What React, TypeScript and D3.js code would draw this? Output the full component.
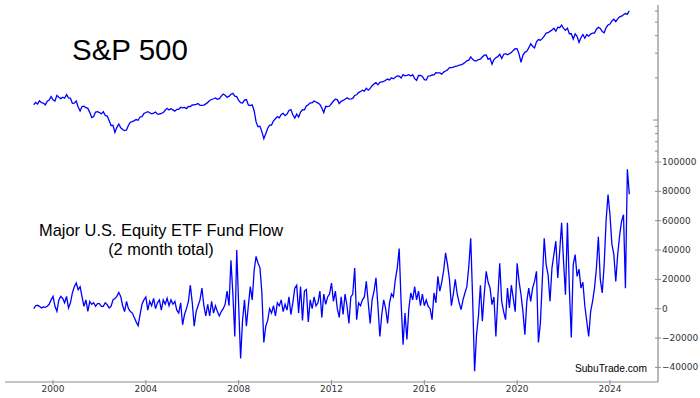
import * as d3 from "d3";

// monthly series, first value = March 1999, last = November 2024
const seriesStart = 1999 + 2 / 12;

// S&P 500 month-end closes
const spxMonthly = [
  1286, 1335, 1302, 1373, 1329, 1320, 1283, 1363, 1389, 1469,
  1394, 1366, 1499, 1452, 1421, 1455, 1431, 1518, 1437, 1429, 1315, 1320,
  1366, 1240, 1160, 1249, 1256, 1224, 1211, 1134, 1041, 1060, 1139, 1148,
  1130, 1107, 1147, 1077, 1067, 990, 912, 916, 815, 886, 936, 880,
  856, 841, 848, 917, 964, 975, 990, 1008, 996, 1051, 1058, 1112,
  1131, 1145, 1126, 1107, 1121, 1141, 1102, 1104, 1115, 1130, 1174, 1212,
  1181, 1204, 1181, 1157, 1192, 1191, 1234, 1220, 1229, 1207, 1249, 1248,
  1280, 1281, 1295, 1311, 1270, 1270, 1277, 1304, 1336, 1378, 1401, 1418,
  1438, 1407, 1421, 1482, 1531, 1503, 1455, 1474, 1527, 1549, 1481, 1468,
  1379, 1331, 1323, 1386, 1400, 1280, 1267, 1283, 1165, 969, 896, 903,
  826, 735, 798, 873, 919, 919, 987, 1021, 1057, 1036, 1096, 1115,
  1074, 1104, 1169, 1187, 1089, 1031, 1102, 1049, 1141, 1183, 1181, 1258,
  1286, 1327, 1326, 1364, 1345, 1321, 1292, 1219, 1131, 1253, 1247, 1258,
  1312, 1366, 1408, 1398, 1310, 1362, 1379, 1407, 1441, 1412, 1416, 1426,
  1498, 1515, 1569, 1598, 1631, 1606, 1686, 1633, 1682, 1757, 1806, 1848,
  1783, 1859, 1872, 1884, 1924, 1960, 1931, 2003, 1972, 2018, 2068, 2059,
  1995, 2105, 2068, 2086, 2107, 2063, 2104, 1972, 1920, 2079, 2080, 2044,
  1940, 1932, 2060, 2065, 2097, 2099, 2174, 2171, 2168, 2126, 2199, 2239,
  2279, 2364, 2363, 2384, 2412, 2423, 2470, 2472, 2519, 2575, 2648, 2674,
  2824, 2714, 2641, 2648, 2705, 2718, 2816, 2902, 2914, 2712, 2760, 2507,
  2704, 2784, 2834, 2946, 2752, 2942, 2980, 2926, 2977, 3038, 3141, 3231,
  3226, 2954, 2585, 2912, 3044, 3100, 3271, 3500, 3363, 3270, 3622, 3756,
  3714, 3811, 3973, 4181, 4204, 4298, 4395, 4523, 4308, 4605, 4567, 4766,
  4516, 4374, 4530, 4132, 4132, 3785, 4130, 3955, 3586, 3872, 4080, 3840,
  4077, 3970, 4109, 4169, 4180, 4450, 4589, 4508, 4288, 4194, 4568, 4770,
  4846, 5096, 5254, 5036, 5278, 5460, 5522, 5648, 5762, 5705, 6032,
];

// ETF fund flow, 2 month total (thousands of the axis unit)
const etfFlowK = [
  0, 2, 2.3, 1.6, 0.5, 1.2, 0.9, 1.6, 3, 6,
  8.4, 1.6, -1.8, 6, 8.4, 7, 4, 8.4, 0.5, 4, 10.7, 15,
  17.5, 13, 15, 8, 1.6, 6, -1.8, 5, 3, 4, 1.6, 3.4,
  3.4, 1.6, 1.6, 4, 2.7, 0.5, 1.6, 6, 7, 8.4, 11, 8.4,
  2, -2, 5, 0, -2, -3, -6, -9, -11.6, -4, 3, 6,
  8, -1, 5, 2, 7, 0, 4, 6, -1, 6, 3, 7,
  2, 6, 3, 5, -1, -3, 4, -11, -4, 0, 5, 16,
  4, -12, -2, 2, 6, 14, 2, -5, 3, -5, 5, -3,
  2, -2, -5, -2, 0, 3, 12, 2, 33, 10, -19, 40,
  2, -34, -8, 6, -12, 2, 15, 6, 26, 35.6, 31, 28,
  10.7, -23, -12, -8, 0, -3, 2, -5, 4, 2, 6, -2,
  3, -1, 8, -4, 4, 14, 16, -3, 15, -8, 12, 13,
  -9, 6, 0, 8, 2, 4, 12, -6, 10, 3, 8, 10,
  17.5, 5, 12, 0, -6, 8, -4, 10, 2, -10, 8, 10,
  27.7, -7.5, 4, 2, 6, 8, 18.6, 4, -10, 6, 12, 21,
  2, -19, -4, 6, 0, -10, 4, 10, 8, 19.7, 27.7, 41,
  4, -24.5, -3, -21, 0, 10.7, 6, 15, 6, 12, 2, 10,
  2, 6, 1.6, 0, -7.5, 10.7, 4, 22, 12, 18, 26, 38,
  30, 20, 2, 10, 20, 10, 4, -0.7, 6, 10.7, 15, 28.8,
  48, 6, -42.7, -17.7, -5, 16, -8.6, 10, 25.5, 18, 14, 2.7,
  8, -19, 7, 31, 5, -2, -7.5, 14, 0.5, 16, 7, -2,
  31, 18.6, 9.5, -2, -17.7, 5, 14, 5, 14, 18.6, 25.5, -23,
  -10, 18.6, 48, 30, 23, 5, 27.7, 36.9, 46, 21, 39, 58.5,
  32, 9.5, 58.5, 14, -19.6, 30, 36.9, 22, 27, 14, 18, 2,
  -8.6, -19, -2, 5, 14, 27.7, 49, 20, 10.7, 30, 60, 77.8,
  64, 44, 37, 18.6, 37, 50, 59.6, 64, 14, 95, 78,
];

const xTickYears = [2000, 2004, 2008, 2012, 2016, 2020, 2024];
const flowTicks = [-40000, -20000, 0, 20000, 40000, 60000, 80000, 100000];
const spxMajorTicks = [1000];
const spxMinorTicks = [600, 700, 800, 900, 2000, 3000, 4000, 5000, 6000];

const W = 700;
const H = 398;
const axisColor = "#8c8c8c";
const textColor = "#333";
const lineColor = "#0000ff";

export default function App() {
  const spine = { x: 658, top: 5, bottom: 382 };

  const x = d3.scaleLinear().domain([1997.93, 2026.07]).range([5, spine.x]);
  const yTop = d3.scaleLog().domain([600, 6000]).range([151.06, 11.06]);
  const yBot = d3.scaleLinear().domain([-50000, 100000]).range([spine.bottom, 162]);

  const date = (i: number) => seriesStart + i / 12;

  const spxLine = d3
    .line<number>()
    .x((_d, i) => x(date(i)))
    .y((d) => yTop(d));
  const flowLine = d3
    .line<number>()
    .x((_d, i) => x(date(i)))
    .y((d) => yBot(d * 1000));

  const tickFont = { fontFamily: "DejaVu Sans", fontSize: 9, fill: textColor };

  return (
    <svg
      width={W}
      height={H}
      style={{ position: "absolute", left: 0, top: 0, background: "#fff" }}
    >
      <path d={spxLine(spxMonthly) ?? ""} fill="none" stroke={lineColor} strokeWidth={1.3} />
      <path d={flowLine(etfFlowK) ?? ""} fill="none" stroke={lineColor} strokeWidth={1.3} />

      {/* spines */}
      <line x1={spine.x} x2={spine.x} y1={spine.top} y2={spine.bottom} stroke={axisColor} strokeWidth={1.2} />
      <line x1={5} x2={spine.x} y1={spine.bottom} y2={spine.bottom} stroke={axisColor} strokeWidth={1.2} />

      {/* top log ticks, no labels */}
      {spxMajorTicks.map((v) => (
        <line key={"M" + v} x1={spine.x - 5} x2={spine.x} y1={yTop(v)} y2={yTop(v)} stroke={axisColor} />
      ))}
      {spxMinorTicks.map((v) => (
        <line key={"m" + v} x1={spine.x - 3} x2={spine.x} y1={yTop(v)} y2={yTop(v)} stroke={axisColor} />
      ))}

      {/* bottom right axis */}
      {flowTicks.map((v) => (
        <g key={v} transform={`translate(${spine.x},${yBot(v)})`}>
          <line x1={-3} x2={3} stroke={axisColor} />
          <text x={4} dy="0.35em" {...tickFont}>
            {v < 0 ? "\u2212" + Math.abs(v) : String(v)}
          </text>
        </g>
      ))}

      {/* x axis */}
      {xTickYears.map((yr) => (
        <g key={yr} transform={`translate(${x(yr)},${spine.bottom})`}>
          <line y1={-2} y2={3} stroke={axisColor} />
          <text y={10} textAnchor="middle" {...tickFont}>
            {yr}
          </text>
        </g>
      ))}

      <text x={72} y={60} fontFamily="Liberation Sans, Arial" fontSize={29.5} fill="#000">
        S&amp;P 500
      </text>
      <text x={39} y={236} fontFamily="Liberation Sans, Arial" fontSize={16.4} fill="#000">
        Major U.S. Equity ETF Fund Flow
      </text>
      <text x={161} y={255} textAnchor="middle" fontFamily="Liberation Sans, Arial" fontSize={16.4} fill="#000">
        (2 month total)
      </text>
      <text x={647} y={372} textAnchor="end" fontFamily="Liberation Sans, Arial" fontSize={10.2} fill="#000">
        SubuTrade.com
      </text>
    </svg>
  );
}
